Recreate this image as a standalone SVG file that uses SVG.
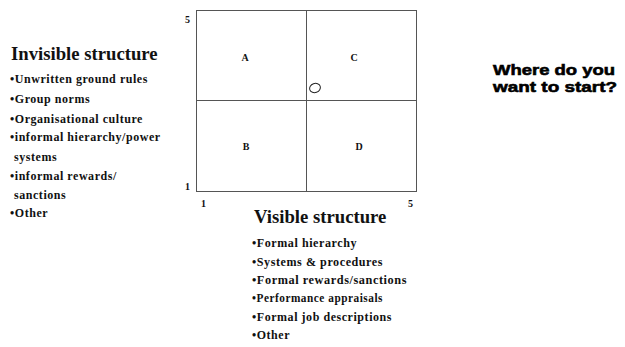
<svg xmlns="http://www.w3.org/2000/svg" width="625" height="347" viewBox="0 0 625 347">
<style>
.h{font-family:"Liberation Serif","Times New Roman",serif;font-weight:bold;font-size:18.7px;fill:#111}
.i{font-family:"Liberation Serif","Times New Roman",serif;font-weight:bold;font-size:12px;letter-spacing:0.55px;fill:#111}
.q{font-family:"Liberation Sans",Arial,sans-serif;font-weight:bold;font-size:15.5px;fill:#000;stroke:#000;stroke-width:0.6}
.ax{font-family:"Liberation Serif","Times New Roman",serif;font-weight:bold;font-size:10px;fill:#111}
.ln{stroke:#555;stroke-width:1;fill:none}
</style>
<rect width="625" height="347" fill="#fff"/>
<g id="grid">
<rect class="ln" x="196.5" y="10.5" width="220" height="181"/>
<line class="ln" x1="306.5" y1="10.5" x2="306.5" y2="191.5"/>
<line class="ln" x1="196.5" y1="100.5" x2="416.5" y2="100.5"/>
<text class="ax" x="185" y="23">5</text>
<text class="ax" x="185" y="190">1</text>
<text class="ax" x="201" y="207">1</text>
<text class="ax" x="408" y="207">5</text>
</g>
<g id="A"><text class="ax" x="245" y="61" text-anchor="middle">A</text></g>
<g id="C"><text class="ax" x="354" y="61" text-anchor="middle">C</text></g>
<g id="B"><text class="ax" x="246" y="150" text-anchor="middle">B</text></g>
<g id="D"><text class="ax" x="359" y="150" text-anchor="middle">D</text></g>
<g id="marker"><ellipse cx="315" cy="88" rx="5.5" ry="4.5" transform="rotate(-20 315 88)" fill="none" stroke="#222" stroke-width="1"/></g>
<g id="invisible">
<text class="h" x="11" y="60">Invisible structure</text>
<text class="i" x="10" y="83">•Unwritten ground rules</text>
<text class="i" x="10" y="103">•Group norms</text>
<text class="i" x="10" y="123">•Organisational culture</text>
<text class="i" x="10" y="141">•informal hierarchy/power</text>
<text class="i" x="14" y="161">systems</text>
<text class="i" x="10" y="180">•informal rewards/</text>
<text class="i" x="14" y="199">sanctions</text>
<text class="i" x="10" y="217">•Other</text>
</g>
<g id="visible">
<text class="h" x="254" y="223">Visible structure</text>
<text class="i" x="252" y="247" textLength="105" lengthAdjust="spacingAndGlyphs">•Formal hierarchy</text>
<text class="i" x="252" y="266" textLength="131" lengthAdjust="spacingAndGlyphs">•Systems &amp; procedures</text>
<text class="i" x="252" y="284" textLength="155" lengthAdjust="spacingAndGlyphs">•Formal rewards/sanctions</text>
<text class="i" x="252" y="302" textLength="131" lengthAdjust="spacingAndGlyphs">•Performance appraisals</text>
<text class="i" x="252" y="321" textLength="140" lengthAdjust="spacingAndGlyphs">•Formal job descriptions</text>
<text class="i" x="252" y="339" textLength="38" lengthAdjust="spacingAndGlyphs">•Other</text>
</g>
<g id="question">
<text class="q" x="493" y="75" textLength="122" lengthAdjust="spacingAndGlyphs">Where do you</text>
<text class="q" x="493" y="92" textLength="124" lengthAdjust="spacingAndGlyphs">want to start?</text>
</g>
</svg>
